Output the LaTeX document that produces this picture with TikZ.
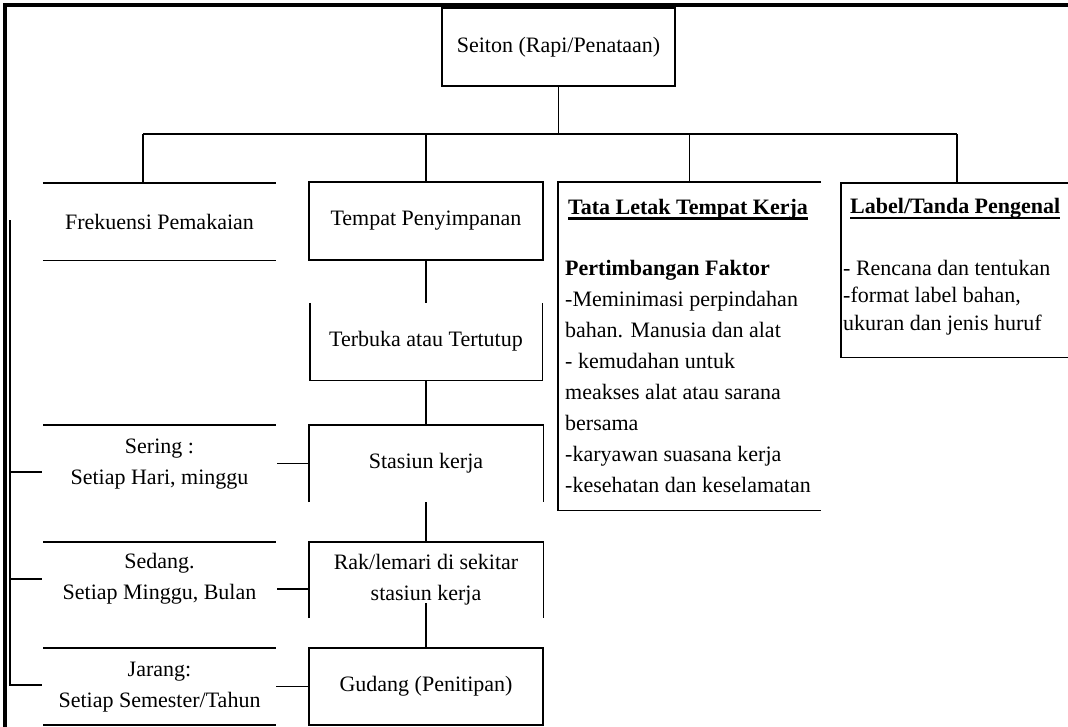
\documentclass[tikz,border=0pt]{standalone}
\usepackage{fontspec}
\setmainfont{Liberation Serif}
\begin{document}
\begin{tikzpicture}[x=1pt,y=-1pt,
  every node/.style={font=\fontsize{22}{31}\selectfont, inner sep=0pt, text=black},
  ln/.style={line width=1.4pt, draw=black},
  boxd/.style={draw=black, line width=1.4pt, align=center},
  plain/.style={align=center},
  ulin/.style={line width=2.2pt}]
\useasboundingbox (0,0) rectangle (1068,726);
\clip (0,0) rectangle (1068,726);
\fill[white] (0,0) rectangle (1068,726);

% outer frame
\draw[line width=4pt] (4.5,740) -- (4.5,5) -- (1090,5);

% top node
\node[boxd, minimum width=233, minimum height=78] (seiton) at (558.5,47) {Seiton (Rapi/Penataan)};

% second level
\node[plain, minimum width=233, minimum height=77] (frek) at (159.5,221.5) {Frekuensi Pemakaian};
\draw[ln] (frek.north west) -- (frek.north east);
\draw[ln] (frek.south west) -- (frek.south east);

\node[boxd, minimum width=234, minimum height=78] (tempat) at (426,221) {Tempat Penyimpanan};

\node[minimum width=263, minimum height=328] (tata) at (689.5,346) {};
\draw[ln] (tata.north east) -- (tata.north west) -- (tata.south west) -- (tata.south east);

\node[minimum width=258, minimum height=174] (lbl) at (970,270) {};
\draw[ln] (lbl.north east) -- (lbl.north west) -- (lbl.south west) -- (lbl.south east);

% bus
\coordinate (b1) at (143,134);
\coordinate (b4) at (957,134);
\draw[ln] (seiton.south) -- (seiton.south |- b1);
\draw[ln] (b1) -- (b4);
\draw[ln] (b1) -- (b1 |- frek.north);
\draw[ln] (tempat.north |- b1) -- (tempat.north);
\draw[ln] (tata.north |- b1) -- (tata.north);
\draw[ln] (b4) -- (b4 |- lbl.north);

% Tata Letak text
\node[anchor=base west, font=\fontsize{22}{31}\selectfont\bfseries] (tataT) at (568,214) {Tata Letak Tempat Kerja};
\draw[ulin] ([yshift=-4.5pt]tataT.base west) -- ([yshift=-4.5pt]tataT.base east);
\node[anchor=north west, align=left] (tataB) at (565,260) {\textbf{Pertimbangan Faktor}\\-Meminimasi perpindahan\\bahan. Manusia dan alat\\- kemudahan untuk\\meakses alat atau sarana\\bersama\\-karyawan suasana kerja\\-kesehatan dan keselamatan};

% Label text
\node[anchor=base west, font=\fontsize{22}{31}\selectfont\bfseries] (lblT) at (850,213) {Label/Tanda Pengenal};
\draw[ulin] ([yshift=-5pt]lblT.base west) -- ([yshift=-5pt]lblT.base east);
\node[anchor=north west, align=left, font=\fontsize{22}{27.5}\selectfont] (lblB) at (843,260) {- Rencana dan tentukan\\-format label bahan,\\ukuran dan jenis huruf};

% storage chain
\node[plain, minimum width=232, minimum height=77] (terbuka) at (426,341.5) {Terbuka atau Tertutup};
\draw[ln] (terbuka.north west) -- (terbuka.south west) -- (terbuka.south east) -- (terbuka.north east);

\node[plain, minimum width=234, minimum height=77] (stasiun) at (426,463.5) {Stasiun kerja};
\draw[ln] (stasiun.south west) -- (stasiun.north west) -- (stasiun.north east) -- (stasiun.south east);

\node[plain, minimum width=234, minimum height=76] (rak) at (426,580) {Rak/lemari di sekitar\\stasiun kerja};
\draw[ln] (rak.south west) -- (rak.north west) -- (rak.north east) -- (rak.south east);

\node[boxd, minimum width=234, minimum height=77] (gudang) at (426,686.5) {Gudang (Penitipan)};

\draw[ln] (tempat.south) -- (terbuka.north);
\draw[ln] (terbuka.south) -- (stasiun.north);
\draw[ln] (stasiun.south) -- (rak.north);
\coordinate (rk) at (426,603);
\draw[ln] (rk) -- (gudang.north);

% frequency column
\node[plain] (sering) at (159.5,464) {Sering :\\Setiap Hari, minggu};
\node[plain] (sedang) at (159.5,579) {Sedang.\\Setiap Minggu, Bulan};
\node[plain] (jarang) at (159.5,687) {Jarang:\\Setiap Semester/Tahun};
\foreach \yy in {425,542,648,725} \draw[ln] (43,\yy) -- (276,\yy);

% side connectors
\coordinate (sw) at (stasiun.west);
\coordinate (rw) at (309,589);
\coordinate (gw) at (gudang.west);
\draw[ln] (sw) -- ++(-32,0);
\draw[ln] (rw) -- ++(-32,0);
\draw[ln] (gw) -- ++(-32,0);

% left bracket
\coordinate (brT) at (10,220);
\coordinate (brB) at (10,685);
\coordinate (br1) at (10,472);
\coordinate (br2) at (10,579);
\draw[ln] (brT) -- (brB) -- ++(32,0);
\draw[ln] (br1) -- ++(32,0);
\draw[ln] (br2) -- ++(32,0);
\end{tikzpicture}
\end{document}
